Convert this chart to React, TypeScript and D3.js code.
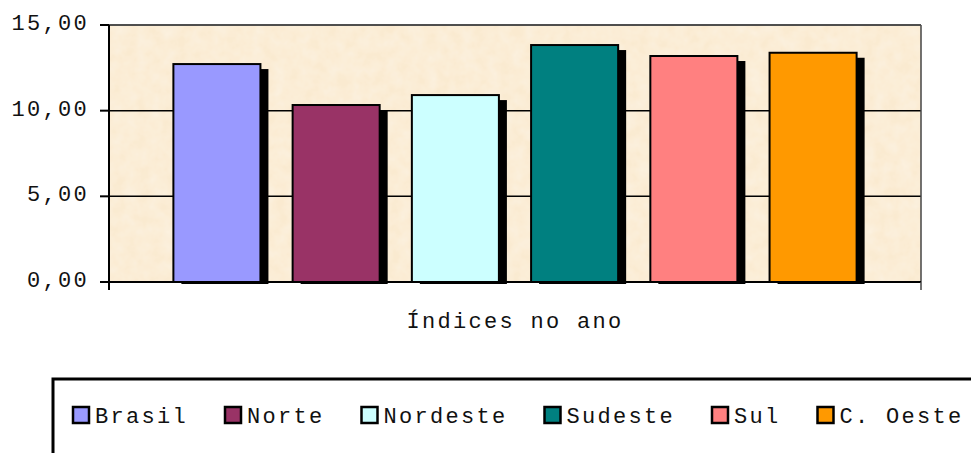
import React from 'react';
import * as d3 from 'd3';

// series (one category: "Índices no ano")
const series = ['Brasil', 'Norte', 'Nordeste', 'Sudeste', 'Sul', 'C. Oeste'];
const values = [12.72, 10.33, 10.91, 13.83, 13.19, 13.38];
const colors = ['#9999FF', '#993366', '#CCFFFF', '#008080', '#FF8080', '#FF9900'];
const yTicks = [0, 5, 10, 15];
const categoryLabel = 'Índices no ano';

const W = 971;
const H = 453;
const plot = { left: 109, right: 921, top: 25, bottom: 282 };
const font = '"Liberation Mono", "DejaVu Sans Mono", monospace';
const fontSize = 22;
const letterSpacing = 2.3;
const charW = fontSize * 0.6 + letterSpacing;

const fmt = (v: number) => v.toFixed(2).replace('.', ',');

export default function App() {
  const x = d3.scaleBand<string>()
    .domain(series)
    .range([plot.left, plot.right])
    .paddingInner(0.27)
    .paddingOuter(0.54);

  const y = d3.scaleLinear()
    .domain([0, 15])
    .range([plot.bottom, plot.top]);

  // legend layout from label lengths
  const legendX0 = 72;
  const legendItems: { name: string; color: string; x: number }[] = [];
  let lx = legendX0;
  series.forEach((s, i) => {
    legendItems.push({ name: s, color: colors[i], x: lx });
    lx += 23 + s.length * charW + 36;
  });

  return (
    <svg width={W} height={H} style={{ position: 'absolute', left: 0, top: 0, background: '#fff' }}>
      <defs>
        <filter id="paper" x="0" y="0" width="100%" height="100%">
          <feTurbulence type="fractalNoise" baseFrequency="0.08" numOctaves="3" seed="4" result="noise" />
          <feColorMatrix in="noise" type="matrix"
            values="0 0 0 0 1  0 0 0 0 0.97  0 0 0 0 0.9  0 0 0 0.55 -0.12" result="spots" />
          <feComposite in="spots" in2="SourceGraphic" operator="atop" />
        </filter>
        <clipPath id="plotClip">
          <rect x={plot.left} y={plot.top} width={plot.right - plot.left} height={plot.bottom - plot.top + 2} />
        </clipPath>
      </defs>

      {/* plot background */}
      <rect x={plot.left} y={plot.top} width={plot.right - plot.left} height={plot.bottom - plot.top}
        fill="#FAEAD0" filter="url(#paper)" />

      {/* gridlines */}
      {yTicks.map(t => (
        <line key={t} x1={plot.left} x2={plot.right} y1={y(t)} y2={y(t)} stroke="#000" strokeWidth={1.5} />
      ))}
      <line x1={plot.right} x2={plot.right} y1={plot.top} y2={plot.bottom} stroke="#444" strokeWidth={1.5} />
      <line x1={plot.left} x2={plot.right} y1={plot.top} y2={plot.top} stroke="#555" strokeWidth={1.5} />

      {/* bars */}
      <g clipPath="url(#plotClip)">
        {series.map((s, i) => (
          <rect key={'sh' + s} x={(x(s) as number) + 8} y={y(values[i]) + 5}
            width={x.bandwidth()} height={plot.bottom - y(values[i])} fill="#000" />
        ))}
      </g>
      {series.map((s, i) => (
        <rect key={s} x={x(s)} y={y(values[i])} width={x.bandwidth()} height={plot.bottom - y(values[i])}
          fill={colors[i]} stroke="#000" strokeWidth={2} />
      ))}

      {/* axes */}
      <line x1={plot.left} x2={plot.left} y1={plot.top} y2={plot.bottom + 8} stroke="#000" strokeWidth={2} />
      <line x1={plot.left} x2={plot.right} y1={plot.bottom} y2={plot.bottom} stroke="#000" strokeWidth={2} />
      <line x1={plot.right} x2={plot.right} y1={plot.bottom} y2={plot.bottom + 8} stroke="#444" strokeWidth={1.5} />
      {yTicks.map(t => (
        <g key={'t' + t}>
          <line x1={plot.left - 9} x2={plot.left} y1={y(t)} y2={y(t)} stroke="#000" strokeWidth={2} />
          <text x={plot.left - 20} y={y(t) + 5} textAnchor="end" fontFamily={font} fontSize={fontSize}
            letterSpacing={letterSpacing} fill="#111">{fmt(t)}</text>
        </g>
      ))}

      <text x={(plot.left + plot.right) / 2} y={328} textAnchor="middle" fontFamily={font} fontSize={fontSize}
        letterSpacing={letterSpacing} fill="#111">{categoryLabel}</text>

      {/* legend */}
      <rect x={53} y={379} width={1000} height={200} fill="#fff" stroke="#000" strokeWidth={3} />
      {legendItems.map(it => (
        <g key={'l' + it.name}>
          <rect x={it.x + 1} y={407} width={16} height={16} fill={it.color} stroke="#000" strokeWidth={2.5} />
          <text x={it.x + 23} y={423} fontFamily={font} fontSize={fontSize} letterSpacing={letterSpacing}
            fill="#111">{it.name}</text>
        </g>
      ))}
    </svg>
  );
}
